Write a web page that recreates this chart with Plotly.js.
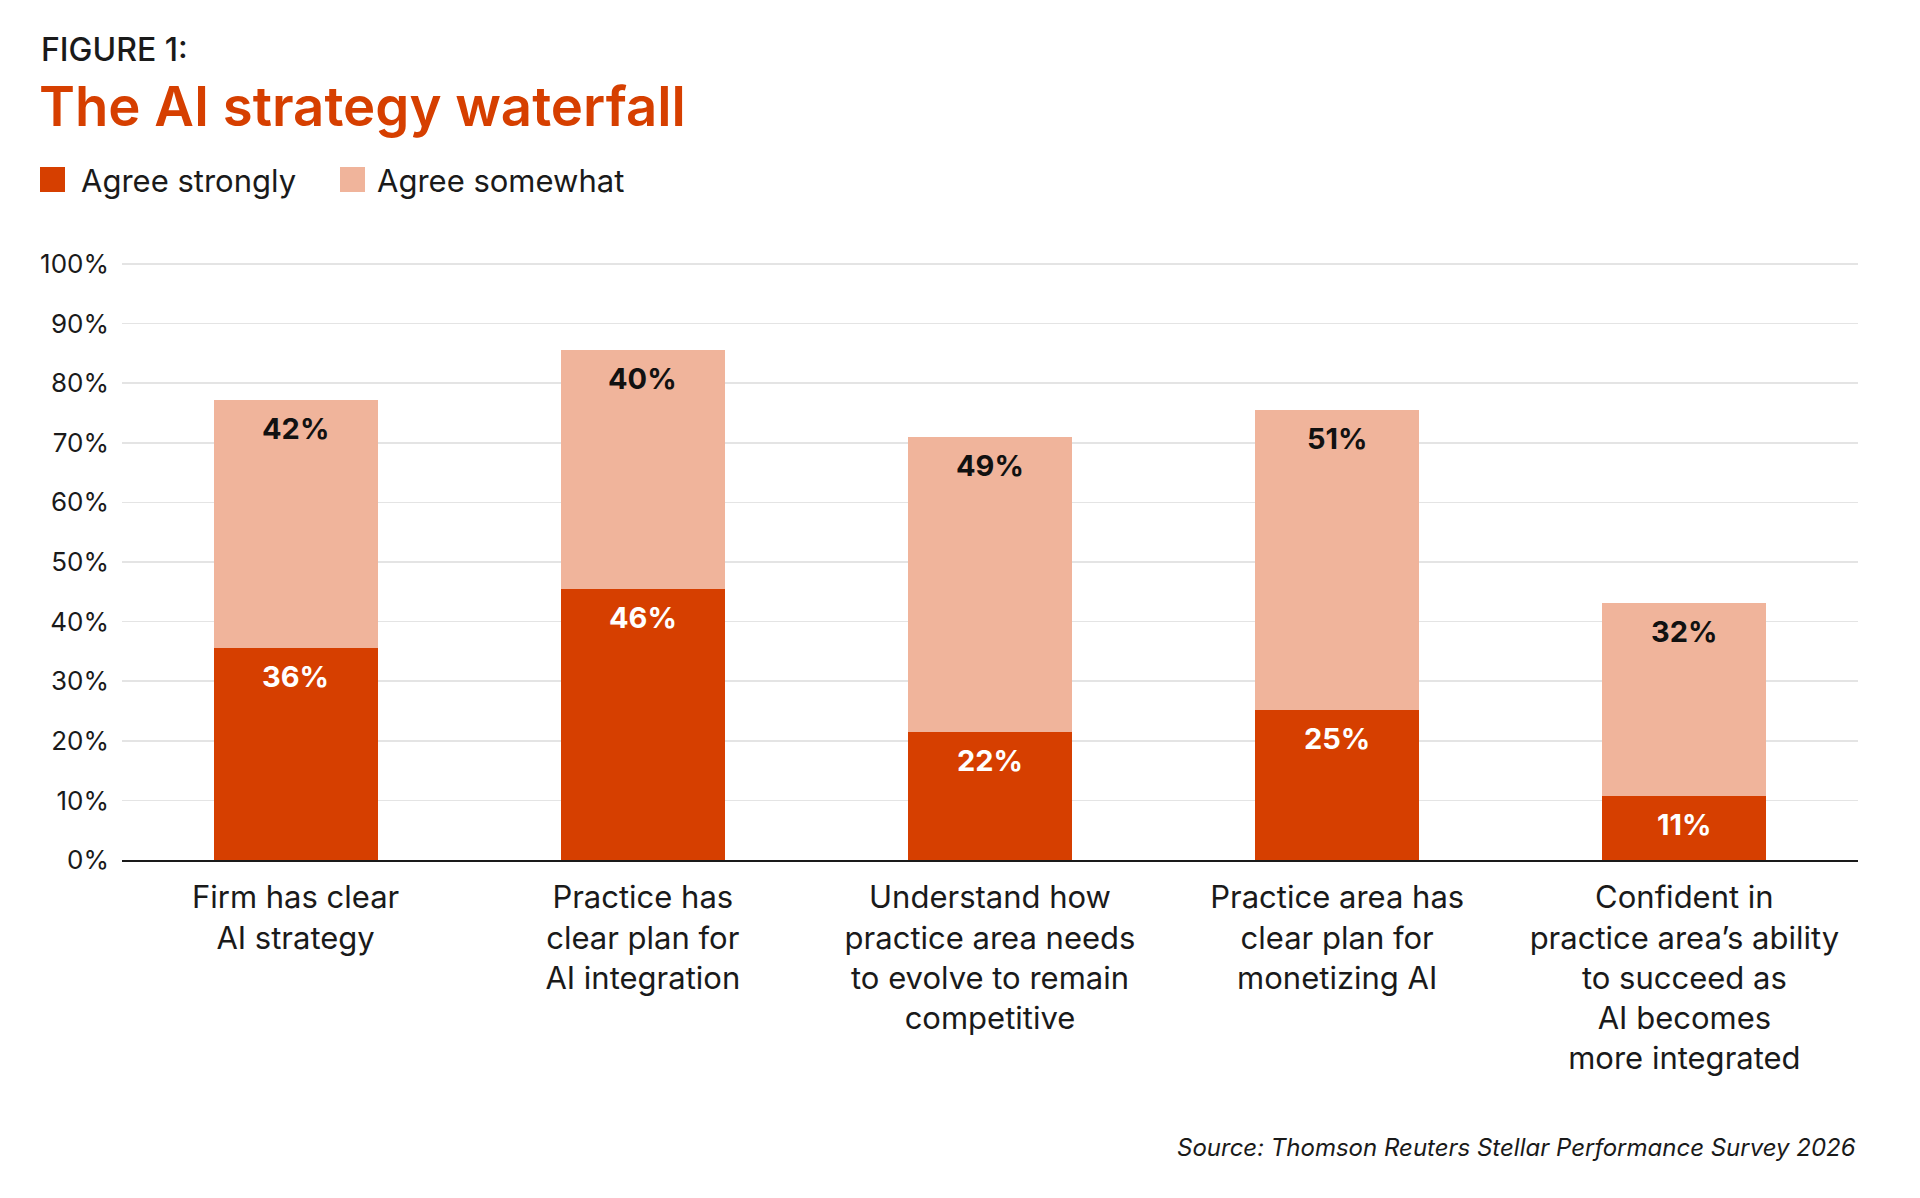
<!DOCTYPE html>
<html>
<head>
<meta charset="utf-8">
<script src="https://cdn.plot.ly/plotly-3.0.1.min.js"></script>
<style>
    html, body { margin: 0; padding: 0; background: #ffffff; }
    #chart { width: 1920px; height: 1198px; }
</style>
</head>
<body>
<div id="chart"></div>
<script>
// Survey answers, per statement (share of respondents, %)
var categories = [
    "Firm has clear<br>AI strategy",
    "Practice has<br>clear plan for<br>AI integration",
    "Understand how<br>practice area needs<br>to evolve to remain<br>competitive",
    "Practice area has<br>clear plan for<br>monetizing AI",
    "Confident in<br>practice area’s ability<br>to succeed as<br>AI becomes<br>more integrated"
]
var agreeStrongly = [35.5, 45.5, 21.5, 25.1, 10.8]
var agreeSomewhat = [41.7, 40.0, 49.4, 50.4, 32.4]
var labelsStrongly = ["36%", "46%", "22%", "25%", "11%"]
var labelsSomewhat = ["42%", "40%", "49%", "51%", "32%"]
var seriesNames = ["Agree strongly", "Agree somewhat"]

var colors = {
    strong: "#d63f00",
    somewhat: "#f0b49b",
    text: "#1a1a1a",
    grid: "#e4e4e4",
}

var fontFamily = "Inter, 'Open Sans', 'Liberation Sans', sans-serif"

// page size and plot margins, used to place the legend and notes in paper coords
var W = 1920, H = 1198
var margin = { l: 122, r: 62, t: 261, b: 338, pad: 0 }

function px(x) {
    return (x - margin.l) / (W - margin.l - margin.r)
}

function py(y) {
    return (H - margin.b - y) / (H - margin.t - margin.b)
}

var data = [
    {
        type: "bar",
        name: seriesNames[0],
        x: categories,
        y: agreeStrongly,
        marker: { color: colors.strong, line: { width: 0 } },
        hoverinfo: "skip",
    },
    {
        type: "bar",
        name: seriesNames[1],
        x: categories,
        y: agreeSomewhat,
        marker: { color: colors.somewhat, line: { width: 0 } },
        hoverinfo: "skip",
    },
]

// value labels sit just under the top of each segment
var annotations = []
for (var i = 0; i < categories.length; i++) {
    annotations.push({
        x: categories[i],
        y: agreeStrongly[i],
        xref: "x", yref: "y",
        text: labelsStrongly[i],
        showarrow: false,
        yanchor: "top",
        yshift: -9,
        font: { family: fontFamily, size: 29, color: "#ffffff", weight: 700 },
    })
    annotations.push({
        x: categories[i],
        y: agreeStrongly[i] + agreeSomewhat[i],
        xref: "x", yref: "y",
        text: labelsSomewhat[i],
        showarrow: false,
        yanchor: "top",
        yshift: -9,
        font: { family: fontFamily, size: 29, color: "#111111", weight: 700 },
    })
}

// heading, legend labels and source
annotations.push({
    xref: "paper", yref: "paper",
    x: px(39), y: py(49.5),
    xanchor: "left", yanchor: "middle",
    text: "FIGURE 1:",
    showarrow: false,
    font: { family: fontFamily, size: 32, color: colors.text, weight: 500 },
})
annotations.push({
    xref: "paper", yref: "paper",
    x: px(79), y: py(180),
    xanchor: "left", yanchor: "middle",
    text: seriesNames[0],
    showarrow: false,
    font: { family: fontFamily, size: 31, color: colors.text },
})
annotations.push({
    xref: "paper", yref: "paper",
    x: px(375), y: py(180),
    xanchor: "left", yanchor: "middle",
    text: seriesNames[1],
    showarrow: false,
    font: { family: fontFamily, size: 31, color: colors.text },
})
annotations.push({
    xref: "paper", yref: "paper",
    x: px(1858), y: py(1147),
    xanchor: "right", yanchor: "middle",
    text: "Source: Thomson Reuters Stellar Performance Survey 2026",
    showarrow: false,
    font: { family: fontFamily, size: 24, color: colors.text, style: "italic" },
})

var shapes = [
    {
        type: "rect", xref: "paper", yref: "paper",
        x0: px(40), x1: px(65), y0: py(192), y1: py(167),
        fillcolor: colors.strong, line: { width: 0 },
    },
    {
        type: "rect", xref: "paper", yref: "paper",
        x0: px(340), x1: px(365), y0: py(192), y1: py(167),
        fillcolor: colors.somewhat, line: { width: 0 },
    },
]

var layout = {
    width: W,
    height: H,
    margin: margin,
    paper_bgcolor: "#ffffff",
    plot_bgcolor: "#ffffff",
    font: { family: fontFamily, color: colors.text },
    title: {
        text: "The AI strategy waterfall",
        xref: "container", yref: "container",
        x: 39 / W, xanchor: "left",
        y: 1 - 106.5 / H, yanchor: "middle",
        font: { family: fontFamily, size: 54.5, color: colors.strong, weight: 600 },
    },
    showlegend: false,
    barmode: "stack",
    bargap: 0.528,
    xaxis: {
        type: "category",
        fixedrange: true,
        showgrid: false,
        showline: true,
        linecolor: colors.text,
        linewidth: 2,
        ticks: "",
        ticklabelstandoff: 9,
        tickfont: { family: fontFamily, size: 31, color: colors.text },
    },
    yaxis: {
        range: [0, 100.5], // a little headroom so the 100% gridline is drawn
        tickmode: "linear",
        tick0: 0,
        dtick: 10,
        ticksuffix: "%",
        fixedrange: true,
        zeroline: false,
        showline: false,
        gridcolor: colors.grid,
        gridwidth: 1.5,
        ticks: "",
        ticklabelstandoff: 12,
        tickfont: { family: fontFamily, size: 26, color: colors.text },
    },
    annotations: annotations,
    shapes: shapes,
}

var config = {
    displayModeBar: false,
    staticPlot: true,
}

Plotly.newPlot("chart", data, layout, config)
</script>
</body>
</html>
